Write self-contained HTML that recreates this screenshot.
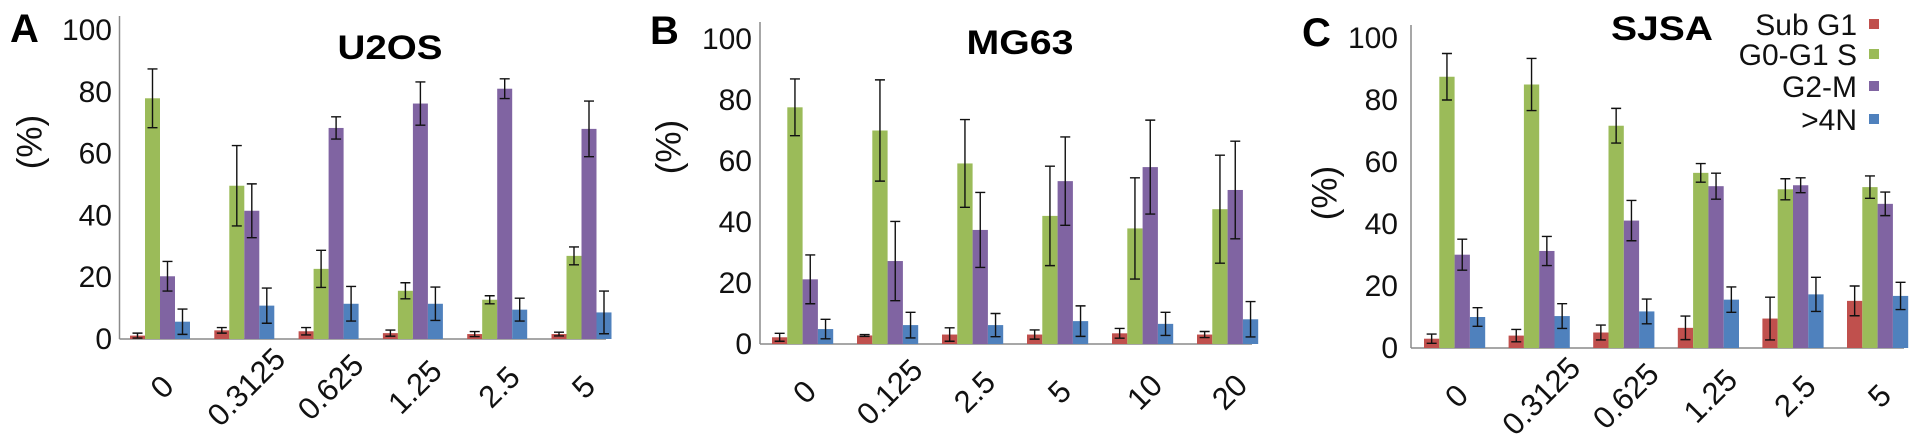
<!DOCTYPE html>
<html><head><meta charset="utf-8"><style>
html,body{margin:0;padding:0;background:#fff;}
svg{display:block;font-family:"Liberation Sans",Arial,sans-serif;}
</style></head><body>
<svg id="fig" width="1913" height="445" viewBox="0 0 1913 445" xmlns="http://www.w3.org/2000/svg"></svg>
<script>
const seriesNames = ["Sub G1","G0-G1 S","G2-M",">4N"];
const seriesColors = ["#c0504d","#9bbb59","#8064a2","#4f81bd"];
const yTicks = [0,20,40,60,80,100];

const catsA = ["0","0.3125","0.625","1.25","2.5","5"];
const subG1A = [1.1,2.8,2.5,1.9,1.6,1.6];
const g0g1A = [77.9,49.6,22.7,15.6,12.7,26.9];
const g2mA = [20.3,41.5,68.3,76.2,81,68];
const n4A = [5.6,10.8,11.4,11.4,9.5,8.6];
const subG1ErrA = [0.8,0.9,1.2,1,0.8,0.6];
const g0g1ErrA = [9.5,13,6,2.6,1.3,2.9];
const g2mErrA = [4.8,8.7,3.6,7,3.2,9];
const n4ErrA = [4.1,5.7,5.6,5.4,3.7,6.9];

const catsB = ["0","0.125","2.5","5","10","20"];
const subG1B = [2.2,2.8,3.1,3.1,3.5,3.1];
const g0g1B = [77.6,70,59.2,42,37.9,44.2];
const g2mB = [21.2,27.2,37.4,53.4,58,50.5];
const n4B = [4.9,6.2,6.2,7.5,6.6,8.1];
const subG1ErrB = [1.3,0.3,2.2,1.5,1.6,1];
const g0g1ErrB = [9.3,16.6,14.4,16.3,16.6,17.7];
const g2mErrB = [8,13,12.3,14.5,15.4,16];
const n4ErrB = [3.2,4.2,3.8,5,3.8,5.8];

const catsC = ["0","0.3125","0.625","1.25","2.5","5"];
const subG1C = [3,4,5,6.5,9.5,15.2];
const g0g1C = [87.5,85,71.7,56.5,51.2,51.9];
const g2mC = [30.1,31.3,41.1,52.2,52.5,46.5];
const n4C = [10,10.3,11.8,15.6,17.3,16.8];
const subG1ErrC = [1.5,2,2.4,3.8,6.9,4.8];
const g0g1ErrC = [7.5,8.4,5.6,3,3.4,3.6];
const g2mErrC = [5,4.7,6.5,4.2,2.4,3.8];
const n4ErrC = [3,4,4,4.1,5.5,4.4];

const NS="http://www.w3.org/2000/svg";
const svg=document.getElementById('fig');
function mk(tag,attrs,parent){const e=document.createElementNS(NS,tag);for(const k in attrs)e.setAttribute(k,attrs[k]);(parent||svg).appendChild(e);return e;}

function panel(cfg){
  const g=mk('g',{});
  
  
  const y=v=>cfg.base - v*cfg.ppu;
  const x=(i,s)=>cfg.x0 + i*cfg.sp + s*cfg.bw;
  const ya=mk('line',{x1:cfg.ax,x2:cfg.ax,y1:cfg.top,y2:cfg.base,stroke:'#8a8a8a','stroke-width':1.5},g);
  
  
  const xa=mk('line',{x1:cfg.ax,x2:cfg.axEnd,y1:cfg.base,y2:cfg.base,stroke:'#8a8a8a','stroke-width':1.5},g);
  
  
  yTicks.forEach(t=>{
    const tx=mk('text',{x:cfg.lblX,y:y(t)+10,'text-anchor':'end','font-size':30,fill:'#111'},g);
    tx.textContent=t;
    
    
  });
  const series=[cfg.s0,cfg.s1,cfg.s2,cfg.s3];
  const errs=[cfg.e0,cfg.e1,cfg.e2,cfg.e3];
  cfg.cats.forEach((c,i)=>{
    series.forEach((arr,s)=>{
      const v=arr[i];
      const r=mk('rect',{x:x(i,s),y:y(v),width:cfg.bw,height:cfg.base-y(v),fill:seriesColors[s]},g);
      
      
      const e=errs[s][i], cx=x(i,s)+cfg.bw/2;
      const p=mk('path',{d:`M${cx},${y(v+e)}V${y(v-e)}M${cx-5},${y(v+e)}H${cx+5}M${cx-5},${y(v-e)}H${cx+5}`,stroke:'#111','stroke-width':1.4,fill:'none'},g);
      
      
    });
    const gc=x(i,0)+cfg.bw*2+2;
    const lt=mk('text',{x:gc,y:cfg.base+48,'text-anchor':'middle','dominant-baseline':'central','font-size':31,fill:'#111',transform:`rotate(-45 ${gc} ${cfg.base+48})`},g);
    lt.textContent=c;
    
    
  });
  const tt=mk('text',{x:cfg.titleX,y:cfg.titleY,'text-anchor':'middle','font-size':34,'font-weight':'bold',textLength:cfg.titleW,lengthAdjust:'spacingAndGlyphs',fill:'#000'},g);
  tt.textContent=cfg.title;
  
  
  const pl=mk('text',{x:cfg.letX,y:cfg.letY,'font-size':40,'font-weight':'bold',fill:'#000'},g);
  pl.textContent=cfg.id;
  
  
  const yt=mk('text',{x:cfg.ytX,y:cfg.ytY,'text-anchor':'middle','dominant-baseline':'central','font-size':35,fill:'#111',transform:`rotate(-90 ${cfg.ytX} ${cfg.ytY})`},g);
  yt.textContent='(%)';
  
  
}

panel({id:'A',ax:119.5,axEnd:606,top:16,base:339,ppu:3.09,x0:130,sp:84.3,bw:15,lblX:112,cats:catsA,
  s0:subG1A,s1:g0g1A,s2:g2mA,s3:n4A,e0:subG1ErrA,e1:g0g1ErrA,e2:g2mErrA,e3:n4ErrA,
  title:'U2OS',titleX:390,titleY:59,titleW:105,letX:10,letY:42,ytX:30,ytY:142});
panel({id:'B',ax:760,axEnd:1252,top:22,base:344,ppu:3.05,x0:772,sp:85,bw:15.3,lblX:752,cats:catsB,
  s0:subG1B,s1:g0g1B,s2:g2mB,s3:n4B,e0:subG1ErrB,e1:g0g1ErrB,e2:g2mErrB,e3:n4ErrB,
  title:'MG63',titleX:1020,titleY:54,titleW:107,letX:650,letY:44,ytX:669,ytY:147});
panel({id:'C',ax:1411,axEnd:1904,top:25,base:348,ppu:3.1,x0:1424,sp:84.6,bw:15.3,lblX:1398,cats:catsC,
  s0:subG1C,s1:g0g1C,s2:g2mC,s3:n4C,e0:subG1ErrC,e1:g0g1ErrC,e2:g2mErrC,e3:n4ErrC,
  title:'SJSA',titleX:1662,titleY:40,titleW:102,letX:1302,letY:46,ytX:1325,ytY:193});

const legendY=[35,65,97,130];
const lg=mk('g',{});


seriesNames.forEach((n,i)=>{
  const t=mk('text',{x:1857,y:legendY[i],'text-anchor':'end','font-size':30,fill:'#111'},lg);
  t.textContent=n;
  
  
  const r=mk('rect',{x:1869,y:legendY[i]-16,width:10,height:10,fill:seriesColors[i]},lg);
  
  
});
</script>
</body></html>
